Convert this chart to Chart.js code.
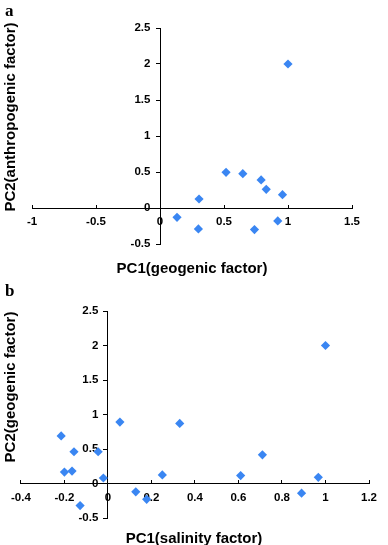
<!DOCTYPE html>
<html>
<head>
<meta charset="utf-8">
<script src="https://cdn.jsdelivr.net/npm/chart.js@4/dist/chart.umd.min.js"></script>
<style>
  body{margin:0;background:#fff;width:388px;height:545px;position:relative;overflow:hidden;font-family:"Liberation Sans",Arial,sans-serif;}
  canvas{position:absolute;left:0;}
  .lbl{position:absolute;font-family:"Liberation Serif","Times New Roman",serif;font-weight:bold;font-size:17px;}
  .t{position:absolute;font-weight:bold;font-size:15px;white-space:nowrap;transform:translate(-50%,-50%);}
  .ty{transform:translate(-50%,-50%) rotate(-90deg);}
</style>
</head>
<body>
<canvas id="chartA" width="388" height="280" style="top:0"></canvas>
<canvas id="chartB" width="388" height="265" style="top:280px"></canvas>
<div class="lbl" style="left:5px;top:1px">a</div>
<div class="lbl" style="left:5px;top:281px">b</div>
<div class="t ty" style="left:9px;top:117px">PC2(anthropogenic factor)</div>
<div class="t" style="left:192px;top:267px">PC1(geogenic factor)</div>
<div class="t ty" style="left:9px;top:387px">PC2(geogenic factor)</div>
<div class="t" style="left:194px;top:537px">PC1(salinity factor)</div>
<script>
// ----------------- Data -----------------
const xTicksA = [-1, -0.5, 0, 0.5, 1, 1.5];
const xTicksB = [-0.4, -0.2, 0, 0.2, 0.4, 0.6, 0.8, 1, 1.2];
const yTicks = [-0.5, 0, 0.5, 1, 1.5, 2, 2.5];

// (a) PC1 geogenic vs PC2 anthropogenic
const pc1A = [1.0, 0.516, 0.647, 0.79, 0.83, 0.957, 0.305, 0.133, 0.30, 0.738, 0.92];
const pc2A = [2.0, 0.495, 0.477, 0.39, 0.26, 0.185, 0.125, -0.13, -0.29, -0.30, -0.18];

// (b) PC1 salinity vs PC2 geogenic
const pc1B = [1.0, 0.055, 0.33, -0.215, -0.156, -0.045, -0.20, -0.165, -0.021, -0.128, 0.128, 0.178, 0.25, 0.61, 0.71, 0.967, 0.89];
const pc2B = [2.0, 0.89, 0.87, 0.69, 0.46, 0.46, 0.165, 0.18, 0.08, -0.32, -0.12, -0.23, 0.125, 0.115, 0.415, 0.09, -0.14];

const blue = "#3a86f2";
const tickFont = {family:"Liberation Sans, Arial, sans-serif", size:11.5, weight:"bold"};
const fmt = v => String(+(+v).toFixed(2));

function makeChart(id, xs, ys, xTicks, pad){
  const pts = xs.map((x,i)=>({x:x, y:ys[i]}));
  return new Chart(document.getElementById(id), {
    type:"scatter",
    data:{datasets:[{data:pts, backgroundColor:blue, borderColor:blue, borderWidth:0,
      pointStyle:"rectRot", pointRadius:4.6, pointHoverRadius:4.6}]},
    options:{
      responsive:false, animation:false,
      layout:{padding:pad},
      plugins:{legend:{display:false}, tooltip:{enabled:false}},
      scales:{
        x:{
          type:"linear", position:{y:0},
          min:xTicks[0], max:xTicks[xTicks.length-1],
          afterBuildTicks:s=>{ s.ticks = xTicks.map(v=>({value:v})); },
          afterFit:s=>{ s.height = 0; },
          grid:{drawOnChartArea:false, drawTicks:true, tickLength:-4, color:"#000", tickColor:"#000"},
          border:{color:"#000", width:1},
          ticks:{color:"#000", font:tickFont, padding:11, autoSkip:false, maxRotation:0, callback:fmt}
        },
        y:{
          type:"linear", position:{x:0},
          min:yTicks[0], max:yTicks[yTicks.length-1],
          afterBuildTicks:s=>{ s.ticks = yTicks.map(v=>({value:v})); },
          afterFit:s=>{ s.width = 0; },
          grid:{drawOnChartArea:false, drawTicks:true, tickLength:4, color:"#000", tickColor:"#000"},
          border:{color:"#000", width:1},
          ticks:{color:"#000", font:tickFont, padding:6, autoSkip:false,
            callback:v=>fmt(v)+"   "}
        }
      }
    }
  });
}

makeChart("chartA", pc1A, pc2A, xTicksA, {left:32, top:28, right:36, bottom:36});
makeChart("chartB", pc1B, pc2B, xTicksB, {left:18, top:31, right:10, bottom:27});
</script>
</body>
</html>
